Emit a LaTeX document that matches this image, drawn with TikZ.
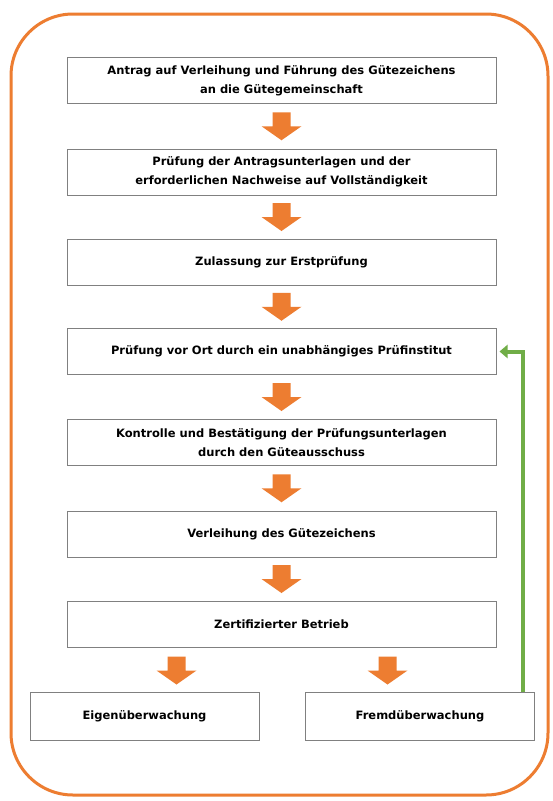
\documentclass[tikz,border=0pt]{standalone}
\usepackage{fontspec}
\setmainfont{DejaVu Sans}
\usetikzlibrary{calc,arrows.meta}
\definecolor{frameorange}{HTML}{ED7D31}
\definecolor{loopgreen}{HTML}{70AD47}
\definecolor{boxgray}{HTML}{808080}
\tikzset{
  stepbox/.style={draw=boxgray, line width=1pt, fill=white, minimum width=429pt, minimum height=46pt,
    align=center, inner sep=0pt, font=\fontsize{11.5}{19}\selectfont\bfseries},
  smallbox/.style={stepbox, minimum width=229pt, minimum height=48pt},
  arrfill/.style={fill=frameorange},
}
\newcommand\blockarr[1]{%
  \begin{scope}[shift={(#1)}]
    \fill[arrfill] (-9,-14) -- (9,-14) -- (9,0) -- (20,0) -- (0,14) -- (-20,0) -- (-9,0) -- cycle;
  \end{scope}}
\begin{document}
\begin{tikzpicture}[x=1pt,y=-1pt]
\useasboundingbox (0,0) rectangle (552,801);
\fill[white] (0,0) rectangle (552,801);
\draw[frameorange, line width=3pt, rounded corners=62pt] (11,14) rectangle (548,795);

\node[stepbox] (b1) at (281.5,80.5) {Antrag auf Verleihung und Führung des Gütezeichens\\an die Gütegemeinschaft};
\node[stepbox] (b2) at (281.5,172) {Prüfung der Antragsunterlagen und der\\erforderlichen Nachweise auf Vollständigkeit};
\node[stepbox] (b3) at (281.5,262) {Zulassung zur Erstprüfung};
\node[stepbox] (b4) at (281.5,351.5) {Prüfung vor Ort durch ein unabhängiges Prüfinstitut};
\node[stepbox] (b5) at (281.5,442.5) {Kontrolle und Bestätigung der Prüfungsunterlagen\\durch den Güteausschuss};
\node[stepbox] (b6) at (281.5,534) {Verleihung des Gütezeichens};
\node[stepbox] (b7) at (281.5,624) {Zertifizierter Betrieb};
\node[smallbox] (b8) at (144.5,716) {Eigenüberwachung};
\node[smallbox] (b9) at (420,716) {Fremdüberwachung};

\coordinate (m1) at ($(b1.south)!0.5!(b2.north)$);
\coordinate (m2) at ($(b2.south)!0.5!(b3.north)$);
\coordinate (m3) at ($(b3.south)!0.5!(b4.north)$);
\coordinate (m4) at ($(b4.south)!0.5!(b5.north)$);
\coordinate (m5) at ($(b5.south)!0.5!(b6.north)$);
\coordinate (m6) at ($(b6.south)!0.5!(b7.north)$);
\coordinate (m7) at ($(b7.south)+(-105,23)$);
\coordinate (m8) at ($(b7.south)+(106,23)$);
\blockarr{m1}\blockarr{m2}\blockarr{m3}\blockarr{m4}\blockarr{m5}\blockarr{m6}\blockarr{m7}\blockarr{m8}

\coordinate (gstart) at ($(b9.north east)+(-12,0)$);
\draw[loopgreen, line width=4pt, -{Triangle[width=13pt,length=8pt]}] (gstart) |- ($(b4.east)+(3,0)$);
\end{tikzpicture}
\end{document}
